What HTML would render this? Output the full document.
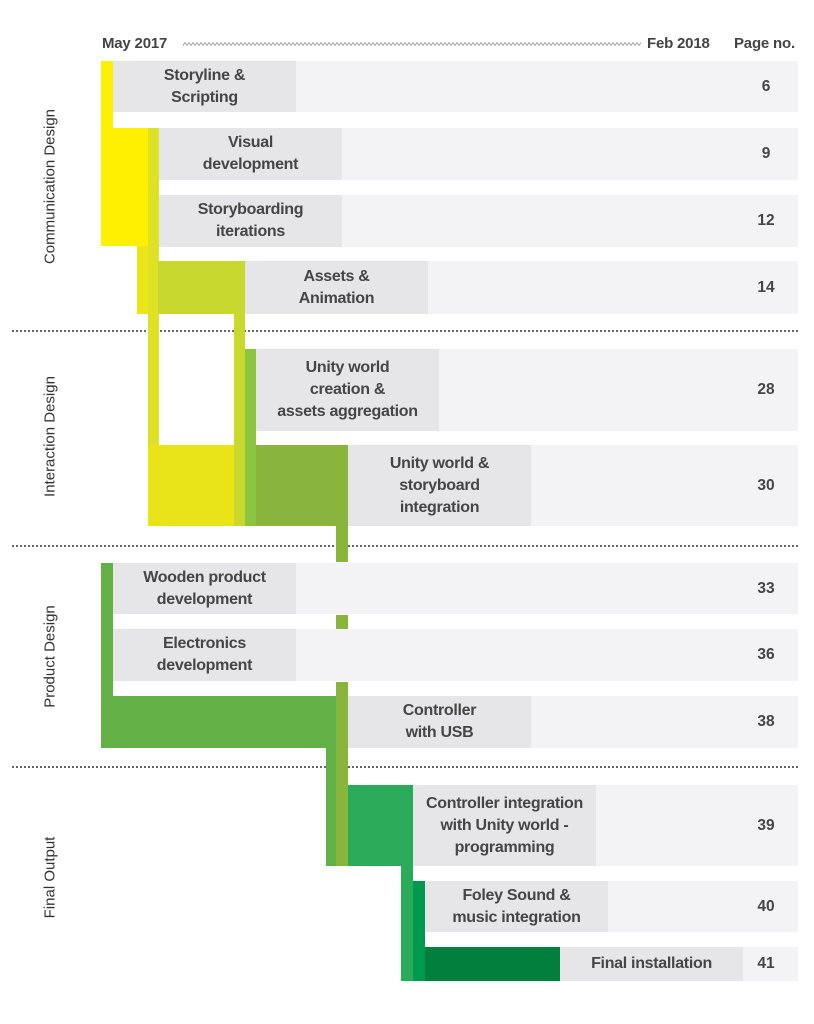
<!DOCTYPE html>
<html><head><meta charset="utf-8">
<style>
body{margin:0;width:814px;height:1024px;background:#fff;position:relative;overflow:hidden;font-family:"Liberation Sans",sans-serif;}
.a{position:absolute;}
.hdr{position:absolute;top:35px;font-weight:bold;font-size:15px;color:#444;letter-spacing:-0.2px}
.lbl{position:absolute;display:flex;align-items:center;justify-content:center;text-align:center;font-weight:bold;font-size:16px;line-height:22px;color:#454545;background:#e6e6e8;letter-spacing:-0.3px}
.bg{position:absolute;background:#f3f3f5}
.pg{position:absolute;left:740px;width:52px;text-align:center;font-weight:bold;font-size:15.5px;color:#454545}
.side{position:absolute;transform:rotate(-90deg);transform-origin:center;font-size:15px;color:#333;white-space:nowrap;width:240px;text-align:center;left:-70px}
.dot{position:absolute;left:12px;width:786px;border-top:2px dotted #666}
</style></head><body>
<div class="hdr" style="left:102px">May 2017</div>
<svg class="a" style="left:183px;top:40px" width="458" height="8"><path id="wv" fill="none" stroke="#999" stroke-width="0.8"/></svg>
<div class="hdr" style="left:647px">Feb 2018</div>
<div class="hdr" style="left:734px">Page no.</div>

<div class="side" style="top:178px">Communication Design</div>
<div class="side" style="top:428px">Interaction Design</div>
<div class="side" style="top:648px">Product Design</div>
<div class="side" style="top:869px">Final Output</div>

<div class="dot" style="top:330px"></div>
<div class="dot" style="top:545px"></div>
<div class="dot" style="top:766px"></div>

<div id="chart"></div>
<script>
// data
const tasks = ["Storyline &<br>Scripting","Visual<br>development","Storyboarding<br>iterations","Assets &<br>Animation","Unity world<br>creation &<br>assets aggregation","Unity world &<br>storyboard<br>integration","Wooden product<br>development","Electronics<br>development","Controller<br>with USB","Controller integration<br>with Unity world -<br>programming","Foley Sound &<br>music integration","Final installation"];
const pages = [6,9,12,14,28,30,33,36,38,39,40,41];
// layout (not data)
const rowTop = [61,128,195,261,349,445,563,629,696,785,881,947];
const rowH = [51,52,52,53,82,81,51,52,52,81,51,34];
const bgLeft = [113,159,159,158,245,256,113,113,101,348,413,425];
const lblLeft = [113,159,159,245,256,348,113,113,348,413,425,560];
const lblW = 183;
const chart = document.getElementById('chart');
function rect(x,y,w,h,c,name){
  const d=document.createElement('div');
  d.className='a';
  d.style.cssText=`left:${x}px;top:${y}px;width:${w}px;height:${h}px;background:${c}`;
  
  
  chart.appendChild(d);
}
tasks.forEach((t,i)=>{
  const bg=document.createElement('div');
  bg.className='bg';
  bg.style.cssText=`left:${bgLeft[i]}px;top:${rowTop[i]}px;width:${798-bgLeft[i]}px;height:${rowH[i]}px`;
  
  
  chart.appendChild(bg);
  const l=document.createElement('div');
  l.className='lbl';
  l.style.cssText=`left:${lblLeft[i]}px;top:${rowTop[i]}px;width:${lblW}px;height:${rowH[i]}px`;
  l.innerHTML=t;
  
  
  chart.appendChild(l);
  const p=document.createElement('div');
  p.className='pg';
  p.style.top=(rowTop[i]+rowH[i]/2-9)+'px';
  p.textContent=pages[i];
  
  
  chart.appendChild(p);
});
// flow bars
rect(101,61,12,67,'#fff000','flow-storyline');
rect(101,128,47,118,'#fff000','flow-communication');
rect(137,246,11,68,'#ece51a','flow-yellow-step');
rect(148,128,11,398,'#dfe224','flow-visual');
rect(148,445,86,81,'#e8e417','flow-integration-yellow');
rect(158,261,87,53,'#c8d82c','flow-assets');
rect(234,314,11,212,'#c8d82c','flow-assets-down');
rect(245,349,11,177,'#8cc63f','flow-unity-creation');
rect(256,445,92,81,'#8ab53c','flow-unity-integration');
rect(336,526,12,36,'#8ab53c','flow-unity-down');
rect(336,615,12,14,'#8ab53c','flow-unity-mid');
rect(336,682,12,184,'#8ab53c','flow-unity-lower');
rect(101,563,12,133,'#62b046','flow-product');
rect(101,696,235,52,'#62b046','flow-controller');
rect(326,748,10,118,'#62b046','flow-controller-down');
rect(348,785,65,81,'#2aab5a','flow-programming');
rect(401,866,12,115,'#2aab5a','flow-programming-down');
rect(413,881,12,100,'#009a4e','flow-foley');
rect(425,947,135,34,'#00803c','flow-final');
// wave
let d='M0 4';for(let x=0;x<=458;x+=2){d+=` L${x} ${x%4?2.5:5.5}`;}
document.getElementById('wv').setAttribute('d',d);
</script>
</body></html>
